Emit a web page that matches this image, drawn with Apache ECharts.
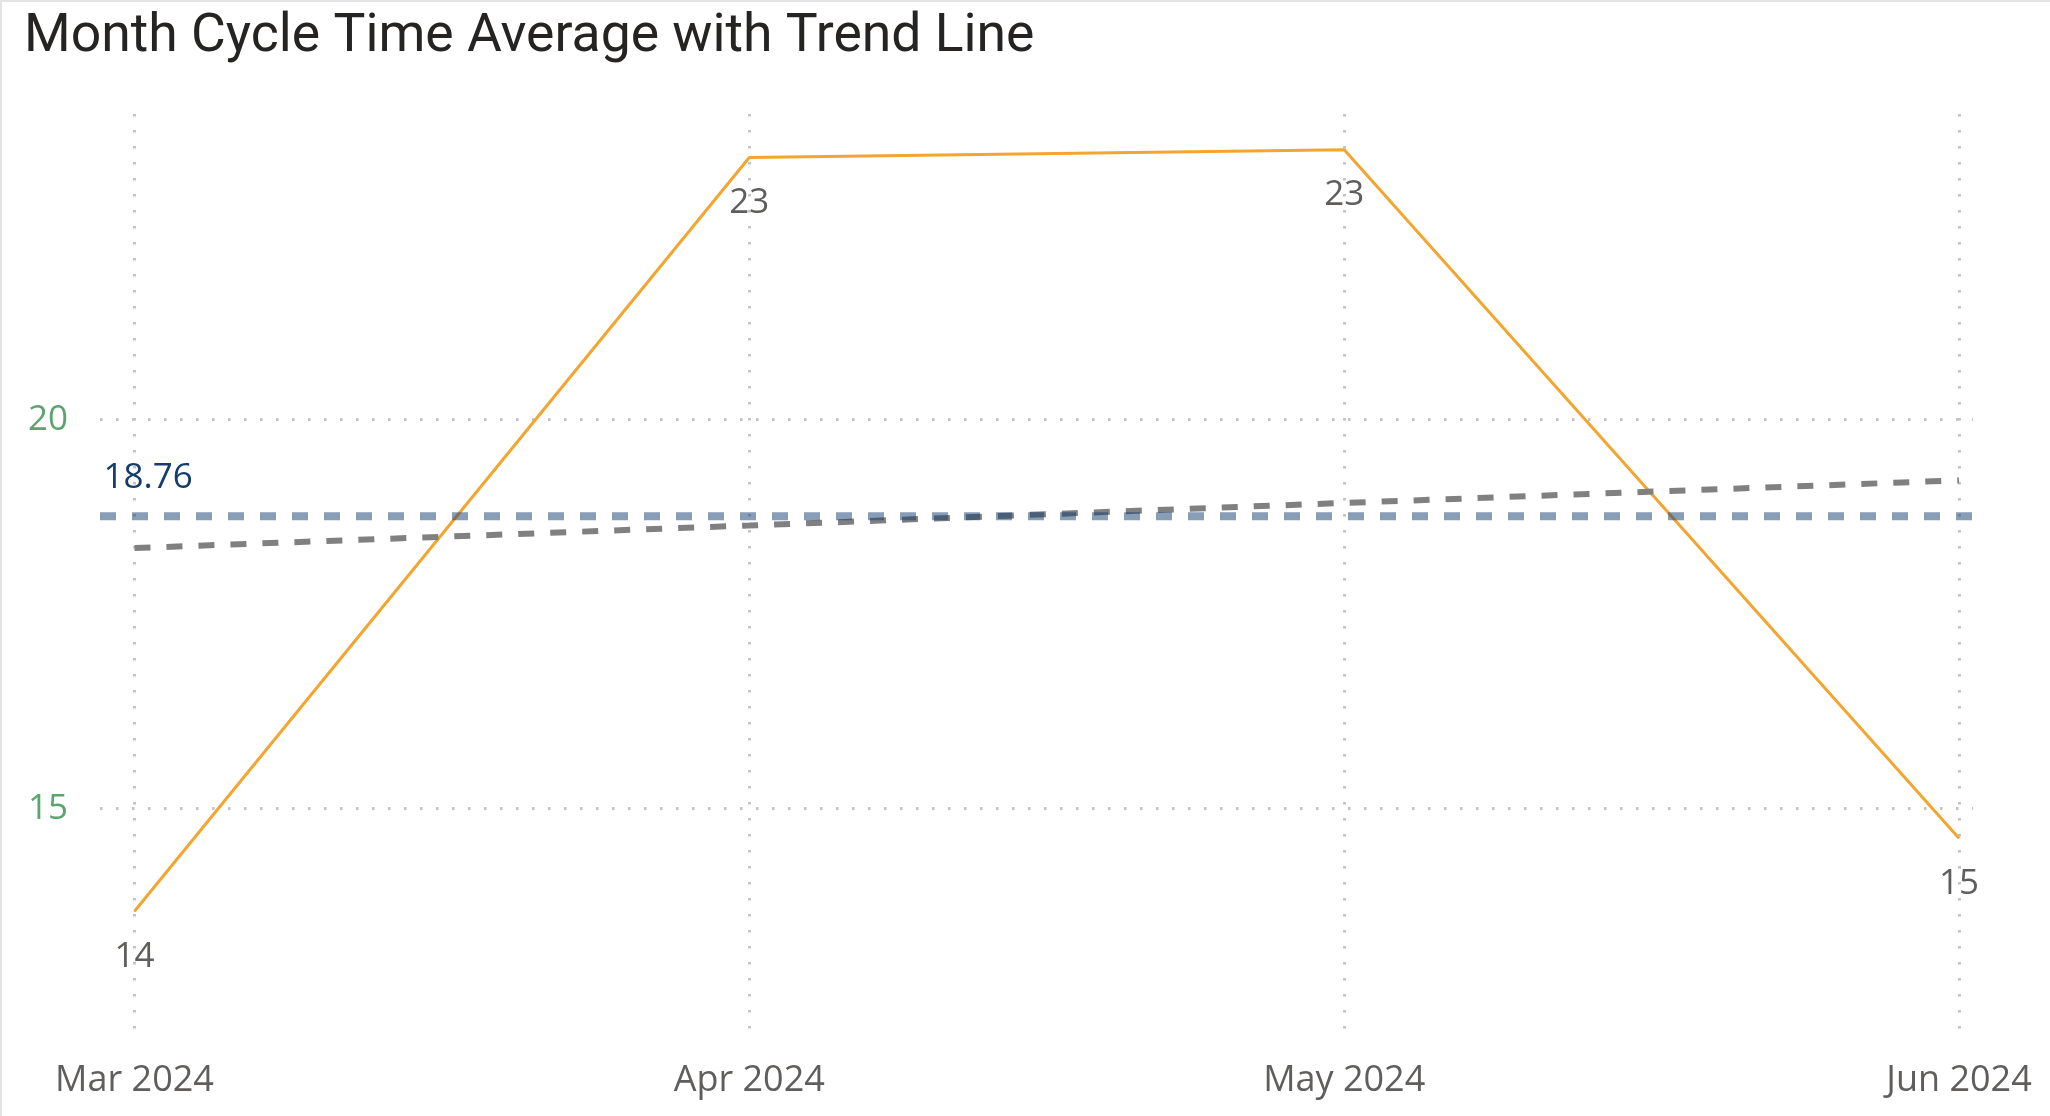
<!DOCTYPE html>
<html>
<head>
<meta charset="utf-8">
<script src="https://cdn.jsdelivr.net/npm/echarts@6/dist/echarts.min.js"></script>
<style>
  html, body { margin: 0; padding: 0; background: #ffffff; }
  #chart { width: 2050px; height: 1116px; }
</style>
</head>
<body>
<div id="chart"></div>
<script>
const months = ['2024-03-01', '2024-04-01', '2024-05-01', '2024-06-01'];
const monthLabels = ['Mar 2024', 'Apr 2024', 'May 2024', 'Jun 2024'];
const cycleTime = [13.68, 23.37, 23.47, 14.62];
const trendValues = [18.35, 18.64, 18.93, 19.22];
const averageValue = 18.76;
const yTicks = [15, 20];
const yMin = 12;
const yMax = 23.93;

const DAY = 86400000;
const toUTC = s => { const p = s.split('-').map(Number); return Date.UTC(p[0], p[1] - 1, p[2]); };
const dayOffsets = months.map(s => Math.round((toUTC(s) - toUTC(months[0])) / DAY));
const dotted = { color: '#c4c4c4', width: 3, type: [2.5, 13.5] };

const chart = echarts.init(document.getElementById('chart'), null, { renderer: 'canvas' });

chart.setOption({
  backgroundColor: '#ffffff',
  animation: false,
  title: {
    text: 'Month Cycle Time Average with Trend Line',
    left: 19,
    top: 6,
    textStyle: { fontFamily: 'DIN, Roboto', fontWeight: 'normal', fontSize: 53.5, color: '#252423' }
  },
  graphic: [
    { type: 'line', shape: { x1: 0, y1: 1, x2: 2050, y2: 1 }, style: { stroke: '#e3e3e3', lineWidth: 2 }, silent: true },
    { type: 'line', shape: { x1: 1, y1: 0, x2: 1, y2: 1116 }, style: { stroke: '#e3e3e3', lineWidth: 2 }, silent: true }
  ],
  grid: [
    { left: 100, right: 77, top: 114, bottom: 74 },
    { left: 134.5, right: 91, top: 114, bottom: 74 }
  ],
  xAxis: [
    { gridIndex: 0, type: 'value', min: 0, max: 1, show: false },
    {
      gridIndex: 1, type: 'value', min: dayOffsets[0], max: dayOffsets[dayOffsets.length - 1],
      axisLine: { show: false },
      axisTick: { show: false, customValues: dayOffsets },
      axisLabel: {
        customValues: dayOffsets,
        color: '#605e5c', fontSize: 36, fontFamily: 'Open Sans', margin: 21, lineHeight: 36,
        formatter: v => { const i = dayOffsets.indexOf(Math.round(v)); return i >= 0 ? monthLabels[i] : ''; }
      },
      splitLine: { show: true, lineStyle: dotted }
    }
  ],
  yAxis: [
    {
      gridIndex: 0, type: 'value', min: yMin, max: yMax,
      axisLine: { show: false },
      axisTick: { show: false, customValues: yTicks },
      axisLabel: { customValues: yTicks, color: '#5aa46f', fontSize: 35, fontFamily: 'Open Sans', margin: 32 },
      splitLine: { show: true, lineStyle: dotted }
    },
    { gridIndex: 1, type: 'value', min: yMin, max: yMax, show: false, splitLine: { show: false } }
  ],
  series: [
    {
      name: 'Cycle Time', type: 'line', xAxisIndex: 1, yAxisIndex: 1,
      data: dayOffsets.map((d, i) => [d, cycleTime[i]]),
      symbol: 'circle', symbolSize: 1, showSymbol: true,
      itemStyle: { color: '#f3a530' },
      lineStyle: { color: '#f3a530', width: 3 },
      label: {
        show: true, position: 'bottom', distance: 27,
        color: '#605e5c', fontSize: 35, fontFamily: 'Open Sans', lineHeight: 36,
        formatter: p => String(Math.round(p.value[1]))
      },
      z: 3
    },
    {
      name: 'Trend', type: 'line', xAxisIndex: 1, yAxisIndex: 1,
      data: dayOffsets.map((d, i) => [d, trendValues[i]]),
      symbol: 'none', silent: true,
      lineStyle: { color: '#808080', width: 6, type: [16, 16] },
      z: 4
    },
    {
      name: 'Average', type: 'line', xAxisIndex: 0, yAxisIndex: 0,
      data: [
        {
          value: [0, averageValue],
          label: {
            show: true, position: [4, -20], align: 'left', verticalAlign: 'bottom',
            color: '#143c6e', fontSize: 35, fontFamily: 'Open Sans', lineHeight: 35,
            formatter: () => averageValue.toFixed(2)
          }
        },
        [1, averageValue]
      ],
      symbol: 'circle', symbolSize: 1, silent: true,
      itemStyle: { color: 'rgba(18,60,110,0)' },
      lineStyle: { color: 'rgba(18,60,110,0.5)', width: 8, type: [16, 16] },
      z: 5
    }
  ]
});
</script>
</body>
</html>
